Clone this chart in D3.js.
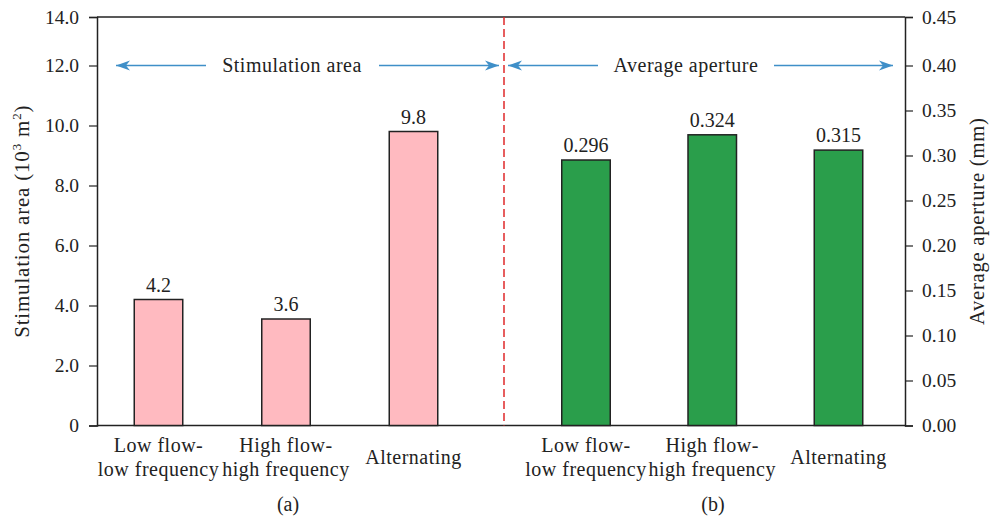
<!DOCTYPE html>
<html>
<head>
<meta charset="utf-8">
<script src="https://cdn.jsdelivr.net/npm/d3@7"></script>
<style>
  body { margin: 0; background: #fff; }
  text { font-family: "Liberation Serif", "Times New Roman", serif; fill: #222; }
</style>
</head>
<body>
<div id="chart"></div>
<script>
// categories (same for both panels)
var categories = [["Low flow-", "low frequency"], ["High flow-", "high frequency"], ["Alternating"]];
var catKeys = ["lf", "hf", "alt"];

// panel (a) stimulation area, 10^3 m2
var areaValues = [4.2, 3.55, 9.8];
var areaLabels = ["4.2", "3.6", "9.8"];

// panel (b) average aperture, mm
var apertureValues = [0.295, 0.323, 0.306];
var apertureLabels = ["0.296", "0.324", "0.315"];

var leftTicks = [0, 2, 4, 6, 8, 10, 12, 14];
var leftTickLabels = ["0", "2.0", "4.0", "6.0", "8.0", "10.0", "12.0", "14.0"];
var rightTicks = [0, 0.05, 0.10, 0.15, 0.20, 0.25, 0.30, 0.35, 0.40, 0.45];

var W = 990, H = 519;
var plotL = 97, plotR = 905, plotT = 17, plotB = 425.5, split = 504;
var fs = 20, ls = 0.5;

var svg = d3.select("#chart").append("svg")
    .attr("width", W)
    .attr("height", H);

// the picture's axes are not evenly spaced near the top
var yL = d3.scaleLinear().domain([0, 12, 14]).range([plotB, 65.5, plotT]);
var yR = d3.scaleLinear().domain([0, 0.40, 0.45]).range([plotB, 65.5, plotT]);

var xA = d3.scalePoint().domain(catKeys).range([158.5, 413.5]);
var xB = d3.scalePoint().domain(catKeys).range([586, 838.5]);
var barW = 48.5;

// frame
svg.append("line").attr("x1", plotL).attr("x2", plotR).attr("y1", plotT).attr("y2", plotT)
    .attr("stroke", "#222").attr("stroke-width", 1.5);
svg.append("line").attr("x1", plotL).attr("x2", plotR).attr("y1", plotB).attr("y2", plotB)
    .attr("stroke", "#222").attr("stroke-width", 1.5);

// left axis
var axL = d3.axisLeft(yL).tickValues(leftTicks).tickSize(8).tickPadding(10)
    .tickFormat(function(d, i) { return leftTickLabels[i]; });
var gL = svg.append("g").attr("transform", "translate(" + plotL + ",0)").call(axL);

// right axis
var axR = d3.axisRight(yR).tickValues(rightTicks).tickSize(8).tickPadding(9)
    .tickFormat(d3.format(".2f"));
var gR = svg.append("g").attr("transform", "translate(" + plotR + ",0)").call(axR);

[gL, gR].forEach(function(g) {
    g.select(".domain").attr("stroke", "#222").attr("stroke-width", 1.5);
    g.selectAll(".tick line").attr("stroke", "#222").attr("stroke-width", 1.2);
    g.selectAll(".tick text").attr("font-size", 19.5).attr("fill", "#222")
        .attr("font-family", "Liberation Serif, serif");
});

// bars
function drawBars(x, y, vals, labels, fill) {
    var g = svg.append("g");
    g.selectAll("rect").data(vals).enter().append("rect")
        .attr("x", function(d, i) { return x(catKeys[i]) - barW / 2; })
        .attr("y", function(d) { return y(d); })
        .attr("width", barW)
        .attr("height", function(d) { return plotB - y(d); })
        .attr("fill", fill)
        .attr("stroke", "#222")
        .attr("stroke-width", 1.5);
    g.selectAll("text").data(vals).enter().append("text")
        .attr("x", function(d, i) { return x(catKeys[i]); })
        .attr("y", function(d) { return y(d) - 8; })
        .attr("text-anchor", "middle")
        .attr("font-size", fs)
        .text(function(d, i) { return labels[i]; });
}
drawBars(xA, yL, areaValues, areaLabels, "#ffbac0");
drawBars(xB, yR, apertureValues, apertureLabels, "#2a9e4b");

// category labels
function drawCats(x) {
    categories.forEach(function(lines, i) {
        var t = svg.append("text")
            .attr("x", x(catKeys[i]))
            .attr("y", lines.length > 1 ? 452 : 464)
            .attr("text-anchor", "middle")
            .attr("font-size", fs)
            .attr("letter-spacing", ls);
        lines.forEach(function(s, j) {
            t.append("tspan").attr("x", x(catKeys[i])).attr("dy", j ? 24 : 0).text(s);
        });
    });
}
drawCats(xA);
drawCats(xB);

svg.append("text").attr("x", 288).attr("y", 511).attr("text-anchor", "middle")
    .attr("font-size", fs).text("(a)");
svg.append("text").attr("x", 713).attr("y", 511).attr("text-anchor", "middle")
    .attr("font-size", fs).text("(b)");

// divider
svg.append("line").attr("x1", split).attr("x2", split).attr("y1", plotT).attr("y2", plotB)
    .attr("stroke", "#e0282a").attr("stroke-width", 1.5).attr("stroke-dasharray", "8,4");

// annotation arrows
var blue = "#3f8fc8";
svg.append("defs").append("marker")
    .attr("id", "head")
    .attr("viewBox", "-14 -6 15 12")
    .attr("refX", 0).attr("refY", 0)
    .attr("markerWidth", 15).attr("markerHeight", 12)
    .attr("markerUnits", "userSpaceOnUse")
    .attr("orient", "auto")
    .append("path")
    .attr("d", "M0,0L-14,-5L-10,0L-14,5Z")
    .attr("fill", blue);

var arrowY = yL(12);
var arrows = [[206, 116], [379, 499], [598, 508], [774, 893]];
arrows.forEach(function(a) {
    svg.append("line")
        .attr("x1", a[0]).attr("x2", a[1]).attr("y1", arrowY).attr("y2", arrowY)
        .attr("stroke", blue).attr("stroke-width", 1.5)
        .attr("marker-end", "url(#head)");
});
svg.append("text").attr("x", 292).attr("y", arrowY + 6).attr("text-anchor", "middle")
    .attr("font-size", fs).attr("letter-spacing", ls).text("Stimulation area");
svg.append("text").attr("x", 686).attr("y", arrowY + 6).attr("text-anchor", "middle")
    .attr("font-size", fs).attr("letter-spacing", ls).text("Average aperture");

// axis titles
var tl = svg.append("text")
    .attr("transform", "translate(29," + (plotT + plotB) / 2 + ") rotate(-90)")
    .attr("text-anchor", "middle")
    .attr("font-size", 21)
    .attr("letter-spacing", 0.8);
tl.append("tspan").text("Stimulation area (10");
tl.append("tspan").attr("font-size", 13).attr("dy", -8).text("3");
tl.append("tspan").attr("dy", 8).text(" m");
tl.append("tspan").attr("font-size", 13).attr("dy", -8).text("2");
tl.append("tspan").attr("dy", 8).text(")");

svg.append("text")
    .attr("transform", "translate(984," + (plotT + plotB) / 2 + ") rotate(-90)")
    .attr("text-anchor", "middle")
    .attr("font-size", 20.5)
    .attr("letter-spacing", 0.8)
    .text("Average aperture (mm)");
</script>
</body>
</html>
